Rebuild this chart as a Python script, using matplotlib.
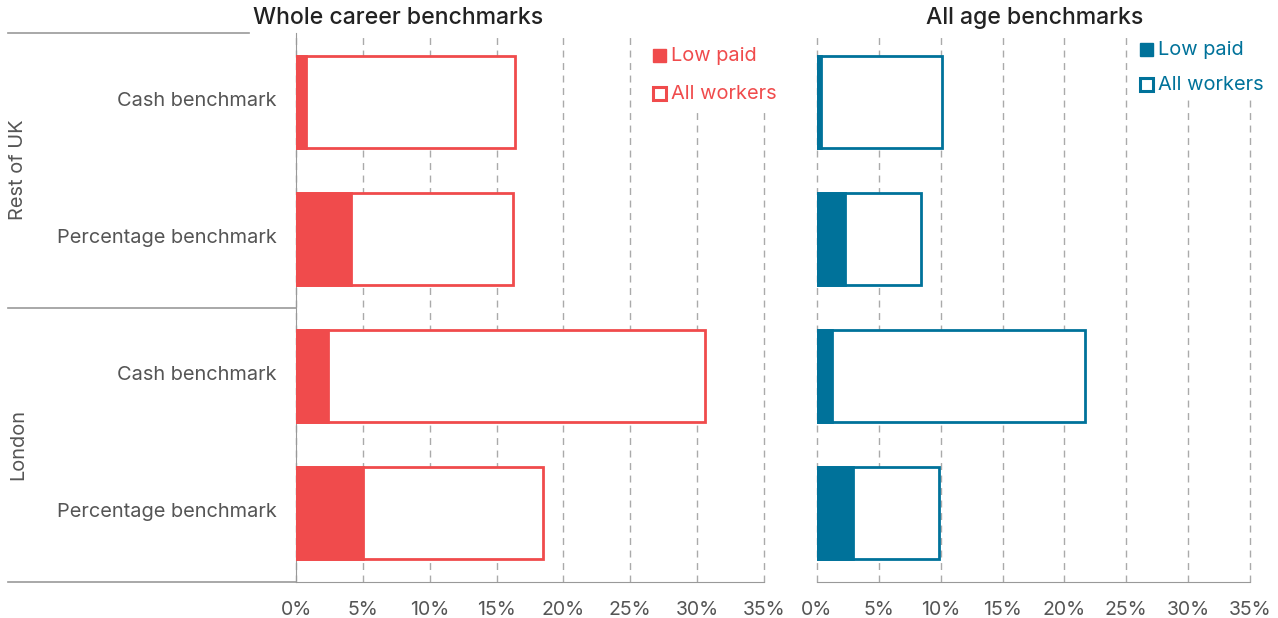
import matplotlib
matplotlib.use("Agg")
import matplotlib.pyplot as plt
import matplotlib.transforms as mtransforms
from matplotlib.lines import Line2D
from matplotlib.patches import Rectangle

plt.rcParams['font.family'] = ['Inter', 'DejaVu Sans']

# Data (percent)
categories = ["Cash benchmark", "Percentage benchmark", "Cash benchmark", "Percentage benchmark"]
groups = ["Rest of UK", "London"]
whole_all = [16.4, 16.2, 30.6, 18.5]
whole_low = [0.75, 4.1, 2.4, 5.0]
age_all = [10.1, 8.4, 21.7, 9.9]
age_low = [0.35, 2.3, 1.2, 2.9]
ticks = [0, 5, 10, 15, 20, 25, 30, 35]
legend_labels = ["Low paid", "All workers"]

RED = "#F04B4C"
BLUE = "#00729A"
GREY = "#999999"
TXT = "#555555"

W, H = 1278, 618
fig = plt.figure(figsize=(W / 100, H / 100), dpi=100)


def px(x0, y0, x1, y1):
    # pixel box -> figure fraction [left, bottom, width, height]
    return [x0 / W, 1 - y1 / H, (x1 - x0) / W, (y1 - y0) / H]


ax1 = fig.add_axes(px(296, 33, 764, 582))
ax2 = fig.add_axes(px(817, 33, 1250, 582))

for ax, all_v, low_v, col in [(ax1, whole_all, whole_low, RED), (ax2, age_all, age_low, BLUE)]:
    y = range(len(categories))
    ax.barh(y, all_v, height=0.67, color="white", edgecolor=col, linewidth=2, zorder=3)
    ax.barh(y, low_v, height=0.67, color=col, edgecolor=col, linewidth=2, zorder=4)
    ax.set_xlim(0, 35)
    ax.set_ylim(3.5, -0.5)
    ax.set_xticks(ticks)
    ax.set_xticklabels([f"{t}%" for t in ticks], fontsize=14, color=TXT)
    ax.tick_params(axis="x", length=0, pad=14)
    ax.grid(axis="x", color="#AAAAAA", linestyle=(0, (5, 4)), linewidth=1, zorder=0)
    for gl in ax.get_xgridlines():
        gl.set_clip_on(False)
    for s in ["top", "right"]:
        ax.spines[s].set_visible(False)
    ax.spines["bottom"].set_color(GREY)
    ax.spines["left"].set_color(GREY)

ax1.set_yticks(range(len(categories)))
ax1.set_yticklabels(categories, fontsize=14.4, color=TXT, va="center_baseline")
ax1.tick_params(axis="y", length=0, pad=14)
shift = mtransforms.ScaledTranslation(0, 3 / 100, fig.dpi_scale_trans)
for lbl in ax1.get_yticklabels():
    lbl.set_transform(lbl.get_transform() + shift)
ax2.set_yticks([])
ax2.spines["left"].set_visible(False)

# titles
fig.text(253 / W, 1 - 18 / H, "Whole career benchmarks", fontsize=16.6, fontweight="medium",
         color="#222222", ha="left", va="center")
fig.text(1143 / W, 1 - 18 / H, "All age benchmarks", fontsize=16.6, fontweight="medium",
         color="#222222", ha="right", va="center")

# group labels and separator lines
fig.text(18 / W, 1 - 170 / H, groups[0], rotation=90, fontsize=14.4, color=TXT,
         ha="center", va="center")
fig.text(18 / W, 1 - 445 / H, groups[1], rotation=90, fontsize=14.4, color=TXT,
         ha="center", va="center")
for x0, x1, yy in [(8, 249, 33), (8, 296, 308), (8, 296, 582)]:
    fig.add_artist(Line2D([x0 / W, x1 / W], [1 - yy / H, 1 - yy / H], color=GREY, linewidth=1.2))

# legends: white box, square + label, placed in figure pixels
for col, sx, rows, box in [(RED, 652, [62, 100], (645, 37, 782, 112)),
                           (BLUE, 1139, [56, 91], (1132, 34, 1272, 100))]:
    bx0, by0, bx1, by1 = box
    fig.add_artist(Rectangle((bx0 / W, 1 - by1 / H), (bx1 - bx0) / W, (by1 - by0) / H,
                             transform=fig.transFigure, facecolor="white", edgecolor="none"))
    for i, (lab, yb) in enumerate(zip(legend_labels, rows)):
        filled = i == 0
        fig.add_artist(Rectangle((sx / W + 0.001, 1 - yb / H), 13 / W, 13 / H,
                                 transform=fig.transFigure,
                                 facecolor=col if filled else "white", edgecolor=col,
                                 linewidth=1 if filled else 2.2))
        fig.text((sx + 19) / W, 1 - (yb - 1) / H, lab, fontsize=14.4, color=col,
                 ha="left", va="baseline")

fig.savefig("out.png", dpi=100)
